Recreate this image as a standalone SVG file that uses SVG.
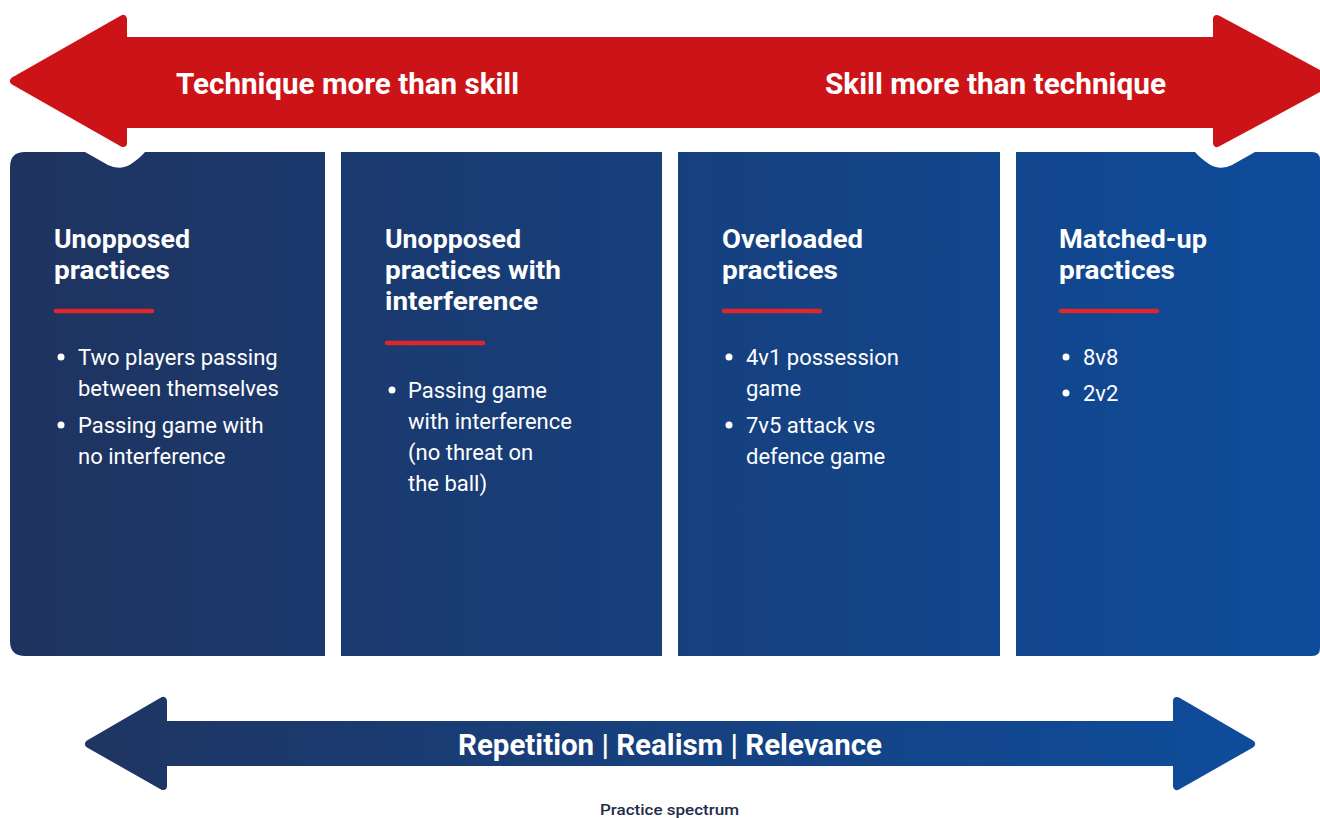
<svg xmlns="http://www.w3.org/2000/svg" width="1320" height="818" viewBox="0 0 1320 818">
<defs>
<linearGradient id="pg" gradientUnits="userSpaceOnUse" x1="10" y1="0" x2="1320" y2="0">
<stop offset="0" stop-color="#1F335F"/>
<stop offset="1" stop-color="#0E4C9B"/>
</linearGradient>
<linearGradient id="bg" gradientUnits="userSpaceOnUse" x1="85" y1="0" x2="1255" y2="0">
<stop offset="0" stop-color="#1F3562"/>
<stop offset="1" stop-color="#0E4C9B"/>
</linearGradient>
<style>
.title{font-family:Roboto,"Liberation Sans",sans-serif;font-weight:700;font-size:26px;fill:#fff}
.body{font-family:Roboto,"Liberation Sans",sans-serif;font-weight:400;font-size:22px;fill:#fff}
.big{font-family:Roboto,"Liberation Sans",sans-serif;font-weight:700;font-size:30px;fill:#fff}
.cap{font-family:Roboto,"Liberation Sans",sans-serif;font-weight:500;font-size:15px;fill:#1E2B4A}
.ul{stroke:#E0262A;stroke-width:4.5;stroke-linecap:round}
.dot{fill:#fff}
</style>
</defs>

<g id="top-arrow">
<path d="M14,81 L123,19 L123,41 L1217,41 L1217,19 L1332,81 L1217,143 L1217,124 L123,124 L123,143 Z" fill="#CC1418" stroke="#CC1418" stroke-width="8" stroke-linejoin="round"/>
<text class="big" x="176" y="94" textLength="343" lengthAdjust="spacingAndGlyphs">Technique more than skill</text>
<text class="big" x="825" y="94" textLength="341" lengthAdjust="spacingAndGlyphs">Skill more than technique</text>
</g>

<g id="panel-1">
<path d="M25,152 H85 L108,165 Q120,171 131,164 Q140,158 145,152 H325 V656 H25 Q10,656 10,641 V167 Q10,152 25,152 Z" fill="url(#pg)"/>
<text class="title" x="54" y="248" textLength="136" lengthAdjust="spacingAndGlyphs">Unopposed</text>
<text class="title" x="54" y="279" textLength="116" lengthAdjust="spacingAndGlyphs">practices</text>
<line class="ul" x1="56" y1="311" x2="152" y2="311"/>
<circle class="dot" cx="61" cy="357" r="3.5"/>
<text class="body" x="78" y="365">Two players passing</text>
<text class="body" x="78" y="396">between themselves</text>
<circle class="dot" cx="61" cy="425" r="3.5"/>
<text class="body" x="78" y="433">Passing game with</text>
<text class="body" x="78" y="464">no interference</text>
</g>

<g id="panel-2">
<rect x="341" y="152" width="321" height="504" fill="url(#pg)"/>
<text class="title" x="385" y="248" textLength="136" lengthAdjust="spacingAndGlyphs">Unopposed</text>
<text class="title" x="385" y="279" textLength="176" lengthAdjust="spacingAndGlyphs">practices with</text>
<text class="title" x="385" y="310" textLength="153" lengthAdjust="spacingAndGlyphs">interference</text>
<line class="ul" x1="387" y1="343" x2="483" y2="343"/>
<circle class="dot" cx="392" cy="390" r="3.5"/>
<text class="body" x="408" y="398">Passing game</text>
<text class="body" x="408" y="429">with interference</text>
<text class="body" x="408" y="460">(no threat on</text>
<text class="body" x="408" y="491">the ball)</text>
</g>

<g id="panel-3">
<rect x="678" y="152" width="322" height="504" fill="url(#pg)"/>
<text class="title" x="722" y="248" textLength="141" lengthAdjust="spacingAndGlyphs">Overloaded</text>
<text class="title" x="722" y="279" textLength="116" lengthAdjust="spacingAndGlyphs">practices</text>
<line class="ul" x1="724" y1="311" x2="820" y2="311"/>
<circle class="dot" cx="729" cy="357" r="3.5"/>
<text class="body" x="746" y="365">4v1 possession</text>
<text class="body" x="746" y="396">game</text>
<circle class="dot" cx="729" cy="425" r="3.5"/>
<text class="body" x="746" y="433">7v5 attack vs</text>
<text class="body" x="746" y="464">defence game</text>
</g>

<g id="panel-4">
<path d="M1016,152 H1195 Q1200,158 1209,164 Q1220,171 1232,165 L1255,152 H1312 Q1320,152 1320,160 V648 Q1320,656 1312,656 H1016 Z" fill="url(#pg)"/>
<text class="title" x="1059" y="248" textLength="148" lengthAdjust="spacingAndGlyphs">Matched-up</text>
<text class="title" x="1059" y="279" textLength="116" lengthAdjust="spacingAndGlyphs">practices</text>
<line class="ul" x1="1061" y1="311" x2="1157" y2="311"/>
<circle class="dot" cx="1066" cy="357" r="3.5"/>
<text class="body" x="1083" y="365">8v8</text>
<circle class="dot" cx="1066" cy="393" r="3.5"/>
<text class="body" x="1083" y="401">2v2</text>
</g>

<g id="bottom-arrow">
<path d="M89,744 L163,701 L163,725 L1177,725 L1177,701 L1251,744 L1177,786 L1177,762 L163,762 L163,786 Z" fill="url(#bg)" stroke="url(#bg)" stroke-width="8" stroke-linejoin="round"/>
<text class="big" x="458" y="755" textLength="424" lengthAdjust="spacingAndGlyphs">Repetition | Realism | Relevance</text>
</g>

<text id="caption" class="cap" x="600" y="815" textLength="139" lengthAdjust="spacingAndGlyphs">Practice spectrum</text>
</svg>
